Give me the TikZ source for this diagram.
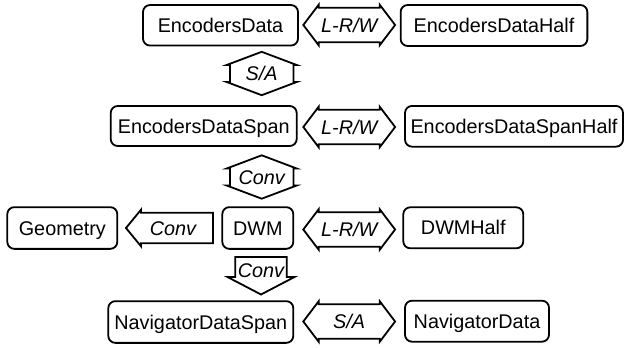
\documentclass[tikz,border=0pt]{standalone}
\usepackage{fontspec}
\setmainfont{Liberation Sans}

% outline of a horizontal double arrow around a label node
\newcommand\hdarrow[1]{%
  \draw[outline, shift={(#1.center)}]
    (-45.9,0) -- (-30.5,-20.3) -- (-30.5,-17.2) -- (30.5,-17.2) -- (30.5,-20.3)
    -- (45.9,0) -- (30.5,20.3) -- (30.5,17.2) -- (-30.5,17.2) -- (-30.5,20.3) -- cycle;}
% outline of a vertical double arrow around a label node
\newcommand\vdarrow[1]{%
  \draw[outline, shift={(#1.center)}]
    (0,-21.7) -- (35,-8.5) -- (31.7,-8.5) -- (31.7,8.5) -- (35,8.5)
    -- (0,21.7) -- (-35,8.5) -- (-31.7,8.5) -- (-31.7,-8.5) -- (-35,-8.5) -- cycle;}

\begin{document}
\begin{tikzpicture}[x=1pt, y=-1pt,
  box/.style={draw, line width=1.8pt, rounded corners=7pt, inner sep=0pt,
    text height=14pt, text depth=0pt, font=\fontsize{19.8}{22}\selectfont},
  lbl/.style={inner sep=0pt, text height=14pt, text depth=0pt,
    font=\fontsize{19.8}{22}\selectfont\itshape},
  outline/.style={draw, line width=1.8pt, line join=miter}]
\useasboundingbox (0,0) rectangle (624,348);

% data boxes
\node[box, minimum width=155pt, minimum height=40.5pt] (ed)   at (220.5,25.3)  {EncodersData};
\node[box, minimum width=186.7pt, minimum height=41pt] (edh)  at (494,25.5)    {EncodersDataHalf};
\node[box, minimum width=186pt, minimum height=40pt]   (eds)  at (203.7,126)   {EncodersDataSpan};
\node[box, minimum width=218pt, minimum height=40.7pt] (edsh) at (514,126.3)   {EncodersDataSpanHalf};
\node[box, minimum width=110pt, minimum height=41.7pt] (geo)  at (62.3,228)    {Geometry};
\node[box, minimum width=71pt, minimum height=41.7pt]  (dwm)  at (257.8,228)   {DWM};
\node[box, minimum width=120pt, minimum height=41pt]   (dwmh) at (463.3,227.8) {DWMHalf};
\node[box, minimum width=185pt, minimum height=41.7pt] (nds)  at (200.8,322)   {NavigatorDataSpan};
\node[box, minimum width=144pt, minimum height=41pt]   (nd)   at (477,321.2)   {NavigatorData};

% operation labels
\node[lbl] (rw1) at (349.2,25)    {L-R/W};
\node[lbl] (sa1) at (261.7,73.5)  {S/A};
\node[lbl] (rw2) at (349.2,127)   {L-R/W};
\node[lbl] (cv1) at (261.7,177)   {Conv};
\node[lbl] (cv2) at (173,228)     {Conv};
\node[lbl] (rw3) at (349.2,229.5) {L-R/W};
\node[lbl] (cv3) at (261,270)     {Conv};
\node[lbl] (sa2) at (349.2,321.5) {S/A};

% arrow outlines
\hdarrow{rw1}
\hdarrow{rw2}
\hdarrow{rw3}
\hdarrow{sa2}
\vdarrow{sa1}
\vdarrow{cv1}
\draw[outline, shift={(cv2.center)}]
  (-47,0) -- (-32,-18.3) -- (-32,-15.3) -- (40,-15.3) -- (40,15.3)
  -- (-32,15.3) -- (-32,18.3) -- cycle;
\draw[outline, shift={(cv3.center)}]
  (-25.8,-13) -- (25.8,-13) -- (25.8,7) -- (33.5,7) -- (0,24.5)
  -- (-33.5,7) -- (-25.8,7) -- cycle;
\end{tikzpicture}
\end{document}
